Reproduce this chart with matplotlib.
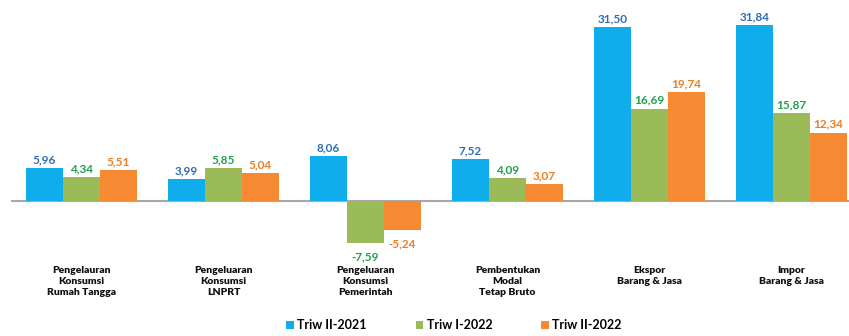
import matplotlib
matplotlib.use("Agg")
import matplotlib.pyplot as plt
from matplotlib.patches import Patch
import numpy as np

categories = [
    "Pengelauran\nKonsumsi\nRumah Tangga",
    "Pengeluaran\nKonsumsi\nLNPRT",
    "Pengeluaran\nKonsumsi\nPemerintah",
    "Pembentukan\nModal\nTetap Bruto",
    "Ekspor\nBarang & Jasa",
    "Impor\nBarang & Jasa",
]
series_names = ["Triw II-2021", "Triw I-2022", "Triw II-2022"]
triw2_2021 = [5.96, 3.99, 8.06, 7.52, 31.50, 31.84]
triw1_2022 = [4.34, 5.85, -7.59, 4.09, 16.69, 15.87]
triw2_2022 = [5.51, 5.04, -5.24, 3.07, 19.74, 12.34]

bar_colors = ["#0FADEC", "#9BBB59", "#F58A33"]
label_colors = ["#2F6DB5", "#1FA04A", "#EE7D22"]

FONT = ["Lato", "DejaVu Sans"]

fig = plt.figure(figsize=(8.49, 3.36), dpi=100)
ax = fig.add_axes([10.5 / 849, 0, 1 - 10.5 / 849, 1])
ax.set_xlim(-0.5, 5.405)
ax.set_ylim(-24.5, 36.36)
ax.axis("off")

x = np.arange(len(categories))
width = 37 / 142
series = [triw2_2021, triw1_2022, triw2_2022]
for i, vals in enumerate(series):
    pos = x + (i - 1) * width
    ax.bar(pos, vals, width=width, color=bar_colors[i], zorder=2)
    for px, v in zip(pos, vals):
        txt = f"{v:.2f}".replace(".", ",")
        if v >= 0:
            ax.annotate(txt, (px, v), xytext=(0, 2), textcoords="offset points",
                        ha="center", va="bottom", fontsize=8.5, fontweight="bold",
                        color=label_colors[i], family=FONT)
        else:
            ax.annotate(txt, (px, v), xytext=(0, -6), textcoords="offset points",
                        ha="center", va="top", fontsize=8.5, fontweight="bold",
                        color=label_colors[i], family=FONT)

ax.axhline(0, color="#A8A8A8", lw=1.5, zorder=1)

for xi, cat in zip(x, categories):
    ax.text(xi, -11.9, cat, ha="center", va="top", fontsize=7.5, fontweight="heavy",
            color="#111111", family=FONT, linespacing=1.25)

handles = [Patch(facecolor=c, edgecolor="none") for c in bar_colors]
fig.legend(handles, series_names, loc="center", bbox_to_anchor=(454 / 849, 1 - 325 / 336),
           ncol=3, frameon=False, handlelength=0.6, handleheight=0.6, handletextpad=0.3,
           columnspacing=3.9, prop={"family": FONT, "weight": "bold", "size": 9})

fig.savefig("out.png", dpi=100)
